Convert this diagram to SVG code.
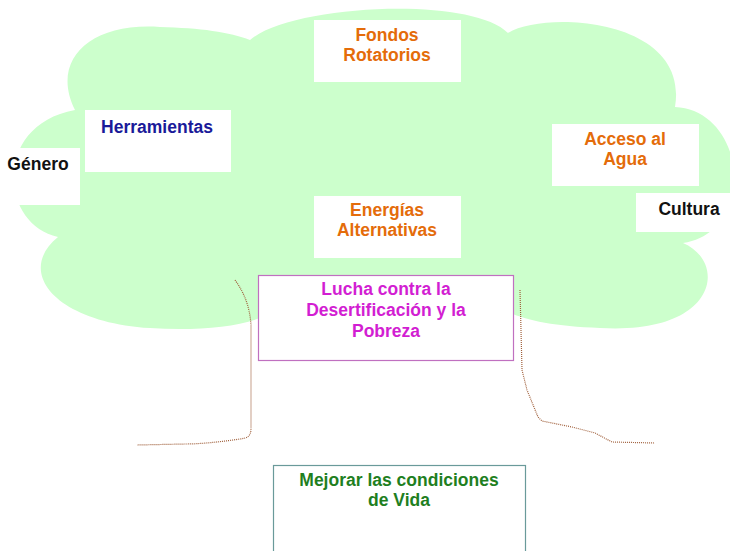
<svg xmlns="http://www.w3.org/2000/svg" width="730" height="551" viewBox="0 0 730 551">
<style>
text{font-family:"Liberation Sans",Arial,sans-serif;font-weight:bold;font-size:17.5px;text-anchor:middle}
.box{fill:#ffffff;stroke:none}
.orange{fill:#e46c0a}
.blue{fill:#1a1a99}
.black{fill:#111111}
.magenta{fill:#d21ed2}
.green{fill:#1f7f1f}
.trunk{fill:none;stroke:#a0603c;stroke-width:1.2;stroke-dasharray:1 1}
</style>
<rect x="0" y="0" width="730" height="551" fill="#ffffff"/>
<g id="cloud">
<path fill="#ccffcc" d="M 250 40 C 290 5, 470 -5, 508 33 C 545 10, 690 18, 675 107 C 745 110, 760 230, 683 243 C 728 262, 718 335, 600 328 C 545 326, 515 318, 495 305 L 280 305 C 265 325, 205 332, 150 328 C 55 322, 15 272, 58 237 C 0 225, -8 125, 75 110 C 50 60, 90 22, 160 27 C 200 28, 230 32, 250 40 Z"/>
</g>
<g id="connectors">
<path class="trunk" d="M 235 280 C 246 295, 250 310, 251 325 L 251 428 C 251 436, 248 438, 240 439 C 220 442, 200 444, 185 444 L 137 445"/>
<path class="trunk" d="M 520 290 L 522 370 L 527 390 L 538 417 L 542 421 L 572 427 L 595 433 L 612 442 L 655 443"/>
</g>
<g id="fondos">
<rect class="box" x="314" y="20" width="147" height="62"/>
<text class="orange" x="387" y="41">Fondos</text>
<text class="orange" x="387" y="61">Rotatorios</text>
</g>
<g id="herramientas">
<rect class="box" x="85" y="110" width="146" height="62"/>
<text class="blue" x="157" y="133">Herramientas</text>
</g>
<g id="genero">
<rect class="box" x="0" y="148" width="80" height="57"/>
<text class="black" x="38" y="170">Género</text>
</g>
<g id="acceso">
<rect class="box" x="552" y="124" width="147" height="62"/>
<text class="orange" x="625" y="145">Acceso al</text>
<text class="orange" x="625" y="165">Agua</text>
</g>
<g id="cultura">
<rect class="box" x="636" y="193" width="94" height="39"/>
<text class="black" x="689" y="215">Cultura</text>
</g>
<g id="energias">
<rect class="box" x="314" y="196" width="147" height="62"/>
<text class="orange" x="387" y="216">Energías</text>
<text class="orange" x="387" y="236">Alternativas</text>
</g>
<g id="lucha">
<rect x="258.5" y="275.5" width="255" height="85" fill="#ffffff" stroke="#c070c0" stroke-width="1.2"/>
<text class="magenta" x="386" y="295">Lucha contra la</text>
<text class="magenta" x="386" y="316">Desertificación y la</text>
<text class="magenta" x="386" y="337">Pobreza</text>
</g>
<g id="mejorar">
<rect x="273.5" y="465.5" width="252" height="90" fill="#ffffff" stroke="#6a9a9a" stroke-width="1.2"/>
<text class="green" x="399" y="486">Mejorar las condiciones</text>
<text class="green" x="399" y="506">de Vida</text>
</g>
</svg>
